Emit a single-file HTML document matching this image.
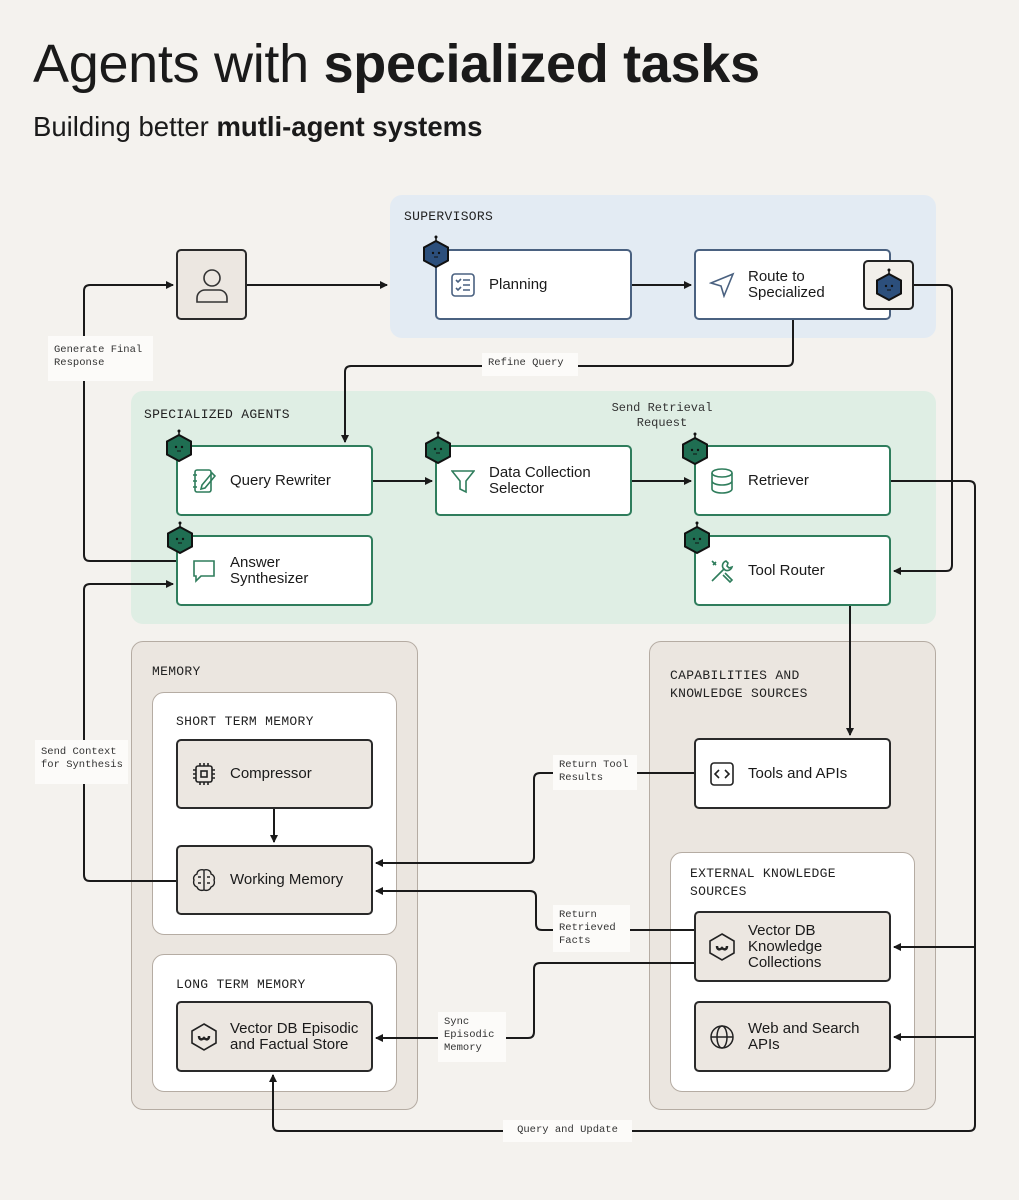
<!DOCTYPE html>
<html><head><meta charset="utf-8"><style>
body{margin:0;width:1019px;height:1200px;background:#f4f2ee;position:relative;overflow:hidden;font-family:"Liberation Sans",sans-serif;color:#1a1a1a}
b{font-weight:700}
.a{position:absolute;box-sizing:border-box}
.panel{border-radius:12px}
.mono{font-family:"Liberation Mono",monospace}
.sec{font-size:13px;letter-spacing:.3px;color:#222;line-height:18px}
.node{border-radius:5px;border:2px solid #2a2a2a;display:flex;align-items:center;font-size:15px;line-height:16px}
.node .ic{width:52px;display:flex;justify-content:center;flex:none}
.blue{border-color:#4a6180;background:#fff}
.green{border-color:#2f7d5c;background:#fff}
.beige{background:#ece7e1}
.wh{background:#fff}
.lab{background:#fcfbf9;font-size:10.5px;line-height:13px;color:#333;padding:4px 6px;white-space:nowrap}
</style></head><body>
<div class="a" style="left:33px;top:33px;font-size:54px;letter-spacing:-0.3px;white-space:nowrap;font-weight:400">Agents with <b>specialized tasks</b></div>
<div class="a" style="left:33px;top:111px;font-size:27.5px;white-space:nowrap">Building better <b>mutli-agent systems</b></div>

<div class="a panel" style="left:390px;top:195px;width:546px;height:143px;background:#e3ebf3"></div>
<div class="a mono sec" style="left:404px;top:208px">SUPERVISORS</div>
<div class="a panel" style="left:131px;top:391px;width:805px;height:233px;background:#dfeee4"></div>
<div class="a mono sec" style="left:144px;top:406px">SPECIALIZED AGENTS</div>
<div class="a panel" style="left:131px;top:641px;width:287px;height:469px;background:#ebe6e0;border:1.5px solid #b5aca3"></div>
<div class="a mono sec" style="left:152px;top:663px">MEMORY</div>
<div class="a panel" style="left:649px;top:641px;width:287px;height:469px;background:#ebe6e0;border:1.5px solid #b5aca3"></div>
<div class="a mono sec" style="left:670px;top:667px">CAPABILITIES AND<br>KNOWLEDGE SOURCES</div>
<div class="a panel" style="left:152px;top:692px;width:245px;height:243px;background:#fff;border:1.5px solid #b5aca3"></div>
<div class="a mono sec" style="left:176px;top:713px">SHORT TERM MEMORY</div>
<div class="a panel" style="left:152px;top:954px;width:245px;height:138px;background:#fff;border:1.5px solid #b5aca3"></div>
<div class="a mono sec" style="left:176px;top:976px">LONG TERM MEMORY</div>
<div class="a panel" style="left:670px;top:852px;width:245px;height:240px;background:#fff;border:1.5px solid #b5aca3"></div>
<div class="a mono sec" style="left:690px;top:865px">EXTERNAL KNOWLEDGE<br>SOURCES</div>

<svg class="a" style="left:0;top:0" width="1019" height="1200">
<defs><marker id="ar" markerWidth="8" markerHeight="8" refX="7" refY="4" orient="auto" markerUnits="userSpaceOnUse"><path d="M0,0L8,4L0,8z" fill="#1a1a1a"/></marker></defs>
<g fill="none" stroke="#1a1a1a" stroke-width="2">
<path d="M247,285H387" marker-end="url(#ar)"/>
<path d="M632,285H691" marker-end="url(#ar)"/>
<path d="M914,285H946q6,0 6,6V565q0,6-6,6H894" marker-end="url(#ar)"/>
<path d="M793,320V360q0,6-6,6H351q-6,0-6,6V442" marker-end="url(#ar)"/>
<path d="M373,481H432" marker-end="url(#ar)"/>
<path d="M632,481H691" marker-end="url(#ar)"/>
<path d="M891,481H969q6,0 6,6V1125q0,6-6,6H279q-6,0-6-6V1075" marker-end="url(#ar)"/>
<path d="M975,947H894" marker-end="url(#ar)"/>
<path d="M975,1037H894" marker-end="url(#ar)"/>
<path d="M176,561H90q-6,0-6-6V291q0-6 6-6H173" marker-end="url(#ar)"/>
<path d="M176,881H90q-6,0-6-6V590q0-6 6-6H173" marker-end="url(#ar)"/>
<path d="M850,606V735" marker-end="url(#ar)"/>
<path d="M694,773H540q-6,0-6,6V857q0,6-6,6H376" marker-end="url(#ar)"/>
<path d="M694,930H542q-6,0-6-6V897q0-6-6-6H376" marker-end="url(#ar)"/>
<path d="M694,963H540q-6,0-6,6V1032q0,6-6,6H376" marker-end="url(#ar)"/>
<path d="M274,809V842" marker-end="url(#ar)"/>
</g></svg>

<div class="a mono lab" style="left:48px;top:336px;width:105px;height:45px;padding-top:8px">Generate Final<br>Response</div>
<div class="a mono lab" style="left:482px;top:353px;width:96px;height:23px">Refine Query</div>
<div class="a mono" style="left:600px;top:401px;width:124px;text-align:center;font-size:12px;line-height:15px;color:#333">Send Retrieval<br>Request</div>
<div class="a mono lab" style="left:35px;top:740px;width:93px;height:44px;padding-top:6px">Send Context<br>for Synthesis</div>
<div class="a mono lab" style="left:553px;top:755px;width:84px;height:35px">Return Tool<br>Results</div>
<div class="a mono lab" style="left:553px;top:905px;width:77px;height:47px">Return<br>Retrieved<br>Facts</div>
<div class="a mono lab" style="left:438px;top:1012px;width:68px;height:50px">Sync<br>Episodic<br>Memory</div>
<div class="a mono lab" style="left:503px;top:1120px;width:129px;height:22px;text-align:center">Query and Update</div>

<div class="a node beige" style="left:176px;top:249px;width:71px;height:71px;justify-content:center">
<svg width="36" height="38" viewBox="0 0 36 38" fill="none" stroke="#333" stroke-width="1.6"><circle cx="18" cy="12" r="8"/><path d="M3,36v-4a8,8 0 0 1 8-8h14a8,8 0 0 1 8,8v4z"/></svg></div>

<div class="a node blue" style="left:435px;top:249px;width:197px;height:71px"><span class="ic"><svg width="24" height="24" fill="none" stroke="#4a6180" stroke-width="1.6"><rect x="1" y="1" width="22" height="22" rx="3"/><path d="M5,7l2,2 3-3M5,15l2,2 3-3M12,7h7M12,12h7M12,17h7"/></svg></span>Planning</div>
<div class="a node blue" style="left:694px;top:249px;width:197px;height:71px"><span class="ic"><svg width="26" height="26" fill="none" stroke="#4a6180" stroke-width="1.6"><path d="M2,11L24,2 15,24 12,14z"/></svg></span>Route to<br>Specialized</div>
<div class="a" style="left:863px;top:260px;width:51px;height:50px;border:2px solid #222;border-radius:5px;background:#f2efea"></div>

<div class="a node green" style="left:176px;top:445px;width:197px;height:71px"><span class="ic"><svg width="24" height="26" fill="none" stroke="#2f7d5c" stroke-width="1.6"><rect x="3" y="2" width="16" height="22" rx="2"/><path d="M1,7h4M1,13h4M1,19h4M10,17l10-12 3,3-10,12-4,1z"/></svg></span>Query Rewriter</div>
<div class="a node green" style="left:435px;top:445px;width:197px;height:71px"><span class="ic"><svg width="24" height="26" fill="none" stroke="#2f7d5c" stroke-width="1.6"><path d="M1,3h22l-8,10v11l-6-3v-8z"/></svg></span>Data Collection<br>Selector</div>
<div class="a node green" style="left:694px;top:445px;width:197px;height:71px"><span class="ic"><svg width="24" height="26" fill="none" stroke="#2f7d5c" stroke-width="1.6"><ellipse cx="12" cy="5" rx="10" ry="4"/><path d="M2,5v16c0,2 4,4 10,4s10-2 10-4V5M2,13c0,2 4,4 10,4s10-2 10-4"/></svg></span>Retriever</div>
<div class="a node green" style="left:176px;top:535px;width:197px;height:71px"><span class="ic"><svg width="24" height="24" fill="none" stroke="#2f7d5c" stroke-width="1.6"><path d="M2,2h20v15H9l-5,5v-5H2z"/></svg></span>Answer<br>Synthesizer</div>
<div class="a node green" style="left:694px;top:535px;width:197px;height:71px"><span class="ic"><svg width="26" height="26" fill="none" stroke="#2f7d5c" stroke-width="1.6"><path d="M3,23l12-12M17,3a5,5 0 0 0-3,7l2,2a5,5 0 0 0 7-3l-3,1-2-2 1-3zM3,3l4,4M7,4l-3,3M14,17l7,7 2-2-7-7"/></svg></span>Tool Router</div>

<div class="a node beige" style="left:176px;top:739px;width:197px;height:70px"><span class="ic"><svg width="24" height="24" fill="none" stroke="#222" stroke-width="1.6"><rect x="4" y="4" width="16" height="16" rx="2"/><rect x="9" y="9" width="6" height="6"/><path d="M8,1v3M12,1v3M16,1v3M8,20v3M12,20v3M16,20v3M1,8h3M1,12h3M1,16h3M20,8h3M20,12h3M20,16h3"/></svg></span>Compressor</div>
<div class="a node beige" style="left:176px;top:845px;width:197px;height:70px"><span class="ic"><svg width="24" height="24" fill="none" stroke="#222" stroke-width="1.4"><path d="M12,2v20M12,2c-4-1-7,1-7,4-3,1-4,4-3,6-1,3 0,6 3,7 1,3 4,4 7,3M12,2c4-1 7,1 7,4 3,1 4,4 3,6 1,3 0,6-3,7-1,3-4,4-7,3M6,9h3M15,9h3M6,15h3M15,15h3"/></svg></span>Working Memory</div>
<div class="a node beige" style="left:176px;top:1001px;width:197px;height:71px"><span class="ic"><svg width="28" height="30" fill="none" stroke="#222" stroke-width="1.6"><path d="M14,2l12,7v12l-12,7-12-7V9z"/><path d="M9,14c0,4 3,4 5,2 2,2 5,2 5-2" stroke-width="2.5"/></svg></span>Vector DB Episodic<br>and Factual Store</div>
<div class="a node wh" style="left:694px;top:738px;width:197px;height:71px"><span class="ic"><svg width="24" height="24" fill="none" stroke="#222" stroke-width="1.6"><rect x="1" y="1" width="22" height="22" rx="3"/><path d="M9,8l-4,4 4,4M15,8l4,4-4,4"/></svg></span>Tools and APIs</div>
<div class="a node beige" style="left:694px;top:911px;width:197px;height:71px"><span class="ic"><svg width="28" height="30" fill="none" stroke="#222" stroke-width="1.6"><path d="M14,2l12,7v12l-12,7-12-7V9z"/><path d="M9,14c0,4 3,4 5,2 2,2 5,2 5-2" stroke-width="2.5"/></svg></span>Vector DB<br>Knowledge<br>Collections</div>
<div class="a node beige" style="left:694px;top:1001px;width:197px;height:71px"><span class="ic"><svg width="26" height="26" fill="none" stroke="#222" stroke-width="1.5"><circle cx="13" cy="13" r="11"/><ellipse cx="13" cy="13" rx="5" ry="11"/><path d="M2,13h22"/></svg></span>Web and Search<br>APIs</div>

<svg class="a" style="left:0;top:0;pointer-events:none" width="1019" height="1200">
<defs>
<g id="rb"><line x1="0" y1="-17" x2="0" y2="-13" stroke="#111" stroke-width="1.5"/><circle cx="0" cy="-17" r="1.5" fill="#111"/><path d="M0,-13L12,-6.5V6.5L0,13-12,6.5V-6.5z" stroke="#111" stroke-width="2"/><circle cx="-3" cy="-1" r="1.2" fill="#111"/><circle cx="3" cy="-1" r="1.2" fill="#111"/><path d="M-2,3h4" stroke="#111" stroke-width="1"/></g>
</defs>
<use href="#rb" x="436" y="254" fill="#2c4f7c"/>
<use href="#rb" x="889" y="287" fill="#2c4f7c"/>
<use href="#rb" x="179" y="448" fill="#1f6e52"/>
<use href="#rb" x="438" y="450" fill="#1f6e52"/>
<use href="#rb" x="695" y="451" fill="#1f6e52"/>
<use href="#rb" x="180" y="540" fill="#1f6e52"/>
<use href="#rb" x="697" y="540" fill="#1f6e52"/>
</svg>
</body></html>
